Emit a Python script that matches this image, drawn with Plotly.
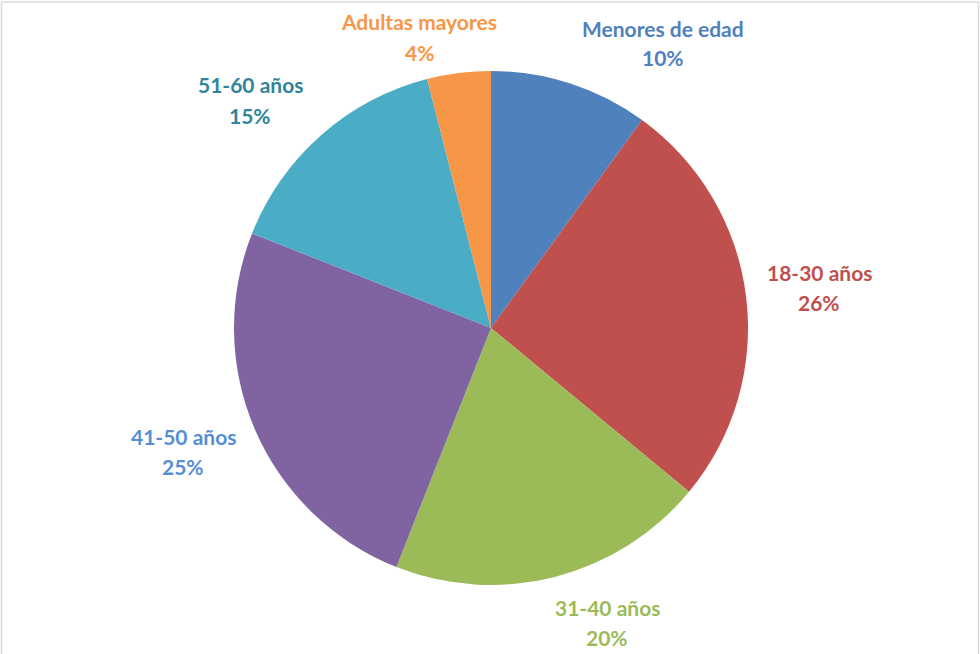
import plotly.graph_objects as go

# data
categories = ["Menores de edad", "18-30 años", "31-40 años", "41-50 años", "51-60 años", "Adultas mayores"]
percents = [10, 26, 20, 25, 15, 4]

slice_colors = ["#4F81BD", "#C0504D", "#9BBB59", "#8064A2", "#4BACC6", "#F79646"]
label_colors = ["#4F81BD", "#C0504D", "#9BBB59", "#558ED5", "#31849B", "#F79646"]

# label anchors in pixels (x center, y of name line); percent goes one line below
label_pos = [(663, 28), (819, 272), (607, 607), (183, 436), (250, 85), (419, 22)]

W, H = 980, 654
cx, cy, r = 491, 328, 257

fig = go.Figure()
fig.add_trace(go.Pie(
    labels=categories, values=percents, sort=False, direction="clockwise", rotation=0,
    marker=dict(colors=slice_colors, line=dict(width=0)),
    textinfo="none", hoverinfo="label+percent", showlegend=False,
    domain=dict(x=[(cx - r) / W, (cx + r) / W], y=[1 - (cy + r) / H, 1 - (cy - r) / H]),
))

# data labels
for name, pct, col, (px_, py_) in zip(categories, percents, label_colors, label_pos):
    for txt, yy in ((name, py_), (f"{pct}%", py_ + 30)):
        fig.add_annotation(x=px_ / W, y=1 - yy / H, xref="paper", yref="paper", text=txt,
                           showarrow=False, xanchor="center", yanchor="middle",
                           font=dict(family="Lato", size=21, color=col, weight="bold"))

# chart frame (left, top, right edges; bottom falls outside the crop)
frame = dict(type="line", xref="paper", yref="paper", line=dict(color="#D9D9D9", width=1.5))
fig.add_shape(**frame, x0=1.5 / W, x1=1.5 / W, y0=0, y1=1 - 2 / H)
fig.add_shape(**frame, x0=1.5 / W, x1=1 - 1.5 / W, y0=1 - 2 / H, y1=1 - 2 / H)
fig.add_shape(**frame, x0=1 - 1.5 / W, x1=1 - 1.5 / W, y0=0, y1=1 - 2 / H)

fig.update_layout(width=W, height=H, margin=dict(l=0, r=0, t=0, b=0),
                  paper_bgcolor="white", plot_bgcolor="white")

# drop the default page margin so the figure sits at the window's corner
fig.write_html("out.html", config={"displayModeBar": False},
               post_script="document.body.style.margin='0';document.body.style.overflow='hidden';")
